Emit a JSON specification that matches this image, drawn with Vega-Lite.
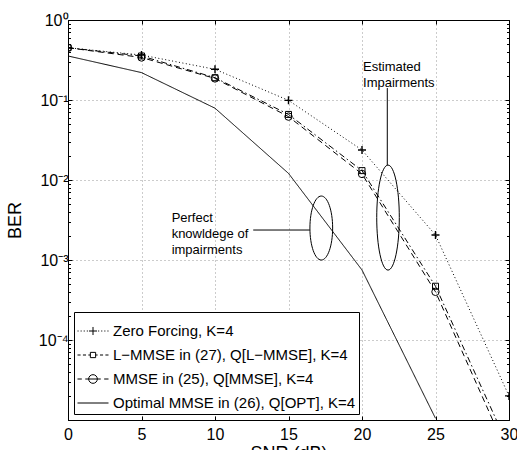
{
  "$schema": "https://vega.github.io/schema/vega-lite/v6.json",
  "width": 441,
  "height": 400,
  "autosize": {"type": "none"},
  "padding": {"left": 68, "top": 20, "right": 8, "bottom": 30},
  "background": "white",
  "config": {
    "view": {"stroke": "black", "strokeWidth": 1},
    "font": "Liberation Sans",
    "axis": {"domainColor": "black", "tickColor": "black", "labelColor": "black", "titleColor": "black", "labelFont": "Liberation Sans", "titleFont": "Liberation Sans", "titleFontWeight": "normal"},
    "legend": {
      "orient": "bottom-left", "offset": 6, "padding": 3, "strokeColor": "black", "fillColor": "white",
      "labelFont": "Liberation Sans", "labelFontSize": 15, "labelColor": "black", "labelOffset": 4, "labelLimit": 400,
      "symbolStrokeColor": "black", "symbolFillColor": "transparent", "symbolStrokeWidth": 1, "symbolSize": 961, "symbolOpacity": 1, "rowPadding": -2, "symbolOffset": 0, "symbolLimit": 10
    }
  },
  "datasets": {
    "ber": [
      {"snr": 0, "ber": 0.45, "series": "Zero Forcing, K=4"},
      {"snr": 5, "ber": 0.365, "series": "Zero Forcing, K=4"},
      {"snr": 10, "ber": 0.242, "series": "Zero Forcing, K=4"},
      {"snr": 15, "ber": 0.099, "series": "Zero Forcing, K=4"},
      {"snr": 20, "ber": 0.0237, "series": "Zero Forcing, K=4"},
      {"snr": 25, "ber": 0.00205, "series": "Zero Forcing, K=4"},
      {"snr": 30, "ber": 0.00002, "series": "Zero Forcing, K=4"},
      {"snr": 0, "ber": 0.45, "series": "L−MMSE in (27), Q[L−MMSE], K=4"},
      {"snr": 5, "ber": 0.355, "series": "L−MMSE in (27), Q[L−MMSE], K=4"},
      {"snr": 10, "ber": 0.19, "series": "L−MMSE in (27), Q[L−MMSE], K=4"},
      {"snr": 15, "ber": 0.066, "series": "L−MMSE in (27), Q[L−MMSE], K=4"},
      {"snr": 20, "ber": 0.0131, "series": "L−MMSE in (27), Q[L−MMSE], K=4"},
      {"snr": 25, "ber": 0.00047, "series": "L−MMSE in (27), Q[L−MMSE], K=4"},
      {"snr": 30, "ber": 0.0000045, "series": "L−MMSE in (27), Q[L−MMSE], K=4"},
      {"snr": 0, "ber": 0.45, "series": "MMSE in (25), Q[MMSE], K=4"},
      {"snr": 5, "ber": 0.34, "series": "MMSE in (25), Q[MMSE], K=4"},
      {"snr": 10, "ber": 0.186, "series": "MMSE in (25), Q[MMSE], K=4"},
      {"snr": 15, "ber": 0.062, "series": "MMSE in (25), Q[MMSE], K=4"},
      {"snr": 20, "ber": 0.0119, "series": "MMSE in (25), Q[MMSE], K=4"},
      {"snr": 25, "ber": 0.0004, "series": "MMSE in (25), Q[MMSE], K=4"},
      {"snr": 30, "ber": 0.0000035, "series": "MMSE in (25), Q[MMSE], K=4"},
      {"snr": 0, "ber": 0.355, "series": "Optimal MMSE in (26), Q[OPT], K=4"},
      {"snr": 5, "ber": 0.22, "series": "Optimal MMSE in (26), Q[OPT], K=4"},
      {"snr": 10, "ber": 0.079, "series": "Optimal MMSE in (26), Q[OPT], K=4"},
      {"snr": 15, "ber": 0.0121, "series": "Optimal MMSE in (26), Q[OPT], K=4"},
      {"snr": 20, "ber": 0.00075, "series": "Optimal MMSE in (26), Q[OPT], K=4"},
      {"snr": 25, "ber": 0.0000105, "series": "Optimal MMSE in (26), Q[OPT], K=4"}
    ],
    "labels": [
      {"snr": 20.07, "ber": 0.2585, "text": "Estimated"},
      {"snr": 20.07, "ber": 0.163, "text": "Impairments"},
      {"snr": 7.05, "ber": 0.00335, "text": "Perfect"},
      {"snr": 7.05, "ber": 0.00211, "text": "knowldege of"},
      {"snr": 7.05, "ber": 0.00133, "text": "impairments"}
    ],
    "connectors": [
      {"snr": 12.6, "snr2": 16.45, "ber": 0.00237, "ber2": 0.00237},
      {"snr": 21.72, "snr2": 21.72, "ber": 0.141, "ber2": 0.0154}
    ],
    "ellipse1": [{"snr": 17.23, "ber": 0.00251}],
    "ellipse2": [{"snr": 21.77, "ber": 0.00339}]
  },
  "resolve": {"axis": {"x": "independent", "y": "independent"}},
  "layer": [
    {
      "data": {"name": "ber"},
      "mark": {"type": "line", "clip": true, "color": "black", "strokeWidth": 1},
      "encoding": {
        "x": {"field": "snr", "type": "quantitative", "scale": {"domain": [0, 30], "nice": false},
          "axis": {"orient": "bottom", "values": [0, 5, 10, 15, 20, 25, 30], "title": "SNR (dB)", "titleFontSize": 18, "titlePadding": 2, "labelFontSize": 16, "labelPadding": 10, "tickSize": -4, "grid": true, "gridDash": [1, 3], "gridColor": "#999", "labelFlush": false}},
        "y": {"field": "ber", "type": "quantitative", "scale": {"type": "log", "domain": [0.00001, 1], "nice": false},
          "axis": {"orient": "left", "title": "BER", "titleFontSize": 18, "titlePadding": 14, "labelFontSize": 16, "labelPadding": 4,
            "values": [0.00001, 0.00002, 0.00003, 0.00004, 0.00005, 0.00006, 0.00007, 0.00008, 0.00009, 0.0001, 0.0002, 0.0003, 0.0004, 0.0005, 0.0006, 0.0007, 0.0008, 0.0009, 0.001, 0.002, 0.003, 0.004, 0.005, 0.006, 0.007, 0.008, 0.009, 0.01, 0.02, 0.03, 0.04, 0.05, 0.06, 0.07, 0.08, 0.09, 0.1, 0.2, 0.3, 0.4, 0.5, 0.6, 0.7, 0.8, 0.9, 1],
            "labelExpr": "datum.value > 0.000015 && abs(log(datum.value)/LN10 - round(log(datum.value)/LN10)) < 0.01 ? (round(log(datum.value)/LN10) == 0 ? '10⁰' : '10⁻' + ['','¹','²','³','⁴','⁵'][-round(log(datum.value)/LN10)]) : ''",
            "tickSize": {"condition": {"test": "abs(log(datum.value)/LN10 - round(log(datum.value)/LN10)) < 0.01", "value": -4}, "value": -2.5},
            "grid": true, "gridDash": [1, 3], "gridColor": "#999",
            "gridOpacity": {"condition": {"test": "abs(log(datum.value)/LN10 - round(log(datum.value)/LN10)) < 0.01", "value": 1}, "value": 0},
            "labelFlush": false, "labelOverlap": false}},
        "strokeDash": {"field": "series", "type": "nominal", "legend": null,
          "scale": {"domain": ["Optimal MMSE in (26), Q[OPT], K=4", "MMSE in (25), Q[MMSE], K=4", "L−MMSE in (27), Q[L−MMSE], K=4", "Zero Forcing, K=4"],
            "range": [[1, 0], [6, 4], [6, 3, 1.5, 3], [1, 2.5]]}}
      }
    },
    {
      "data": {"name": "ber"},
      "transform": [{"filter": "datum.series == 'Zero Forcing, K=4'"}],
      "mark": {"type": "point", "clip": true, "shape": "M-1,0H1M0,-1V1", "size": 64, "color": "black", "filled": false, "strokeWidth": 1.4, "opacity": 1},
      "encoding": {
        "x": {"field": "snr", "type": "quantitative", "axis": {"orient": "top", "values": [0, 5, 10, 15, 20, 25, 30], "labels": false, "title": null, "tickSize": -4, "grid": false}},
        "y": {"field": "ber", "type": "quantitative",
          "axis": {"orient": "right", "labels": false, "title": null, "grid": false,
            "values": [0.00001, 0.00002, 0.00003, 0.00004, 0.00005, 0.00006, 0.00007, 0.00008, 0.00009, 0.0001, 0.0002, 0.0003, 0.0004, 0.0005, 0.0006, 0.0007, 0.0008, 0.0009, 0.001, 0.002, 0.003, 0.004, 0.005, 0.006, 0.007, 0.008, 0.009, 0.01, 0.02, 0.03, 0.04, 0.05, 0.06, 0.07, 0.08, 0.09, 0.1, 0.2, 0.3, 0.4, 0.5, 0.6, 0.7, 0.8, 0.9, 1],
            "tickSize": {"condition": {"test": "abs(log(datum.value)/LN10 - round(log(datum.value)/LN10)) < 0.01", "value": -4}, "value": -2.5}}}
      }
    },
    {
      "data": {"name": "ber"},
      "transform": [{"filter": "datum.series == 'L−MMSE in (27), Q[L−MMSE], K=4'"}],
      "mark": {"type": "point", "clip": true, "shape": "square", "size": 36, "color": "black", "filled": false, "strokeWidth": 1, "opacity": 1},
      "encoding": {
        "x": {"field": "snr", "type": "quantitative", "axis": null},
        "y": {"field": "ber", "type": "quantitative", "axis": null}
      }
    },
    {
      "data": {"name": "ber"},
      "transform": [{"filter": "datum.series == 'MMSE in (25), Q[MMSE], K=4'"}],
      "mark": {"type": "point", "clip": true, "shape": "circle", "size": 55, "color": "black", "filled": false, "strokeWidth": 1, "opacity": 1},
      "encoding": {
        "x": {"field": "snr", "type": "quantitative", "axis": null},
        "y": {"field": "ber", "type": "quantitative", "axis": null}
      }
    },
    {
      "data": {"name": "ellipse1"},
      "mark": {"type": "point", "shape": "M0,-1C0.196,-1 0.355,-0.552 0.355,0C0.355,0.552 0.196,1 0,1C-0.196,1 -0.355,0.552 -0.355,0C-0.355,-0.552 -0.196,-1 0,-1Z", "size": 4096, "color": "black", "filled": false, "strokeWidth": 1, "opacity": 1},
      "encoding": {
        "x": {"field": "snr", "type": "quantitative", "axis": null},
        "y": {"field": "ber", "type": "quantitative", "axis": null}
      }
    },
    {
      "data": {"name": "ellipse2"},
      "mark": {"type": "point", "shape": "M0,-1C0.119,-1 0.215,-0.552 0.215,0C0.215,0.552 0.119,1 0,1C-0.119,1 -0.215,0.552 -0.215,0C-0.215,-0.552 -0.119,-1 0,-1Z", "size": 11025, "color": "black", "filled": false, "strokeWidth": 1, "opacity": 1},
      "encoding": {
        "x": {"field": "snr", "type": "quantitative", "axis": null},
        "y": {"field": "ber", "type": "quantitative", "axis": null}
      }
    },
    {
      "data": {"name": "connectors"},
      "mark": {"type": "rule", "color": "black", "strokeWidth": 1},
      "encoding": {
        "x": {"field": "snr", "type": "quantitative", "axis": null},
        "x2": {"field": "snr2"},
        "y": {"field": "ber", "type": "quantitative", "axis": null},
        "y2": {"field": "ber2"}
      }
    },
    {
      "data": {"name": "labels"},
      "mark": {"type": "text", "align": "left", "baseline": "middle", "font": "Liberation Sans", "fontSize": 13, "color": "black"},
      "encoding": {
        "x": {"field": "snr", "type": "quantitative", "axis": null},
        "y": {"field": "ber", "type": "quantitative", "axis": null},
        "text": {"field": "text"}
      }
    },
    {
      "data": {"name": "ber"},
      "transform": [{"filter": "datum.snr < 0"}],
      "mark": {"type": "point", "color": "black", "filled": false, "strokeWidth": 1, "opacity": 1},
      "encoding": {
        "x": {"field": "snr", "type": "quantitative", "axis": null},
        "y": {"field": "ber", "type": "quantitative", "axis": null},
        "shape": {"field": "series", "type": "nominal", "title": null,
          "scale": {"domain": ["Zero Forcing, K=4", "L−MMSE in (27), Q[L−MMSE], K=4", "MMSE in (25), Q[MMSE], K=4", "Optimal MMSE in (26), Q[OPT], K=4"],
            "range": [
              "M-1,0H-0.93M-0.8,0H-0.73M-0.6,0H-0.53M-0.4,0H-0.33M0.33,0H0.4M0.53,0H0.6M0.73,0H0.8M0.93,0H1M-0.26,0H0.26M0,-0.26V0.26",
              "M-1,0H-0.8M-0.65,0H-0.45M-0.3,0H-0.17M0.17,0H0.3M0.45,0H0.65M0.8,0H1M-0.17,-0.17H0.17V0.17H-0.17Z",
              "M-1,0H-0.72M-0.5,0H0.5M0.72,0H1M0.28,0C0.28,0.155 0.155,0.28 0,0.28C-0.155,0.28 -0.28,0.155 -0.28,0C-0.28,-0.155 -0.155,-0.28 0,-0.28C0.155,-0.28 0.28,-0.155 0.28,0Z",
              "M-1,0H1"
            ]},
          "legend": {"title": null, "symbolOpacity": 1, "symbolSize": 961, "labelFontSize": 15, "labelLimit": 400, "rowPadding": -2}}
      }
    }
  ]
}
